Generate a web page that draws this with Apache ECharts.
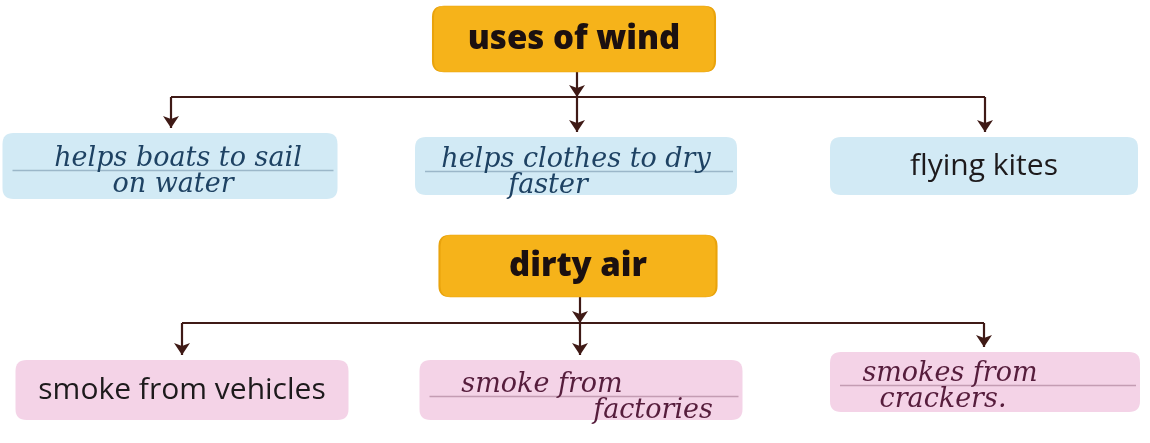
<!DOCTYPE html>
<html><head><meta charset="utf-8">
<script src="https://cdn.jsdelivr.net/npm/echarts@6/dist/echarts.min.js"></script>
<style>html,body{margin:0;padding:0;background:#fff}#c{width:1150px;height:443px}</style>
</head><body><div id="c"></div>
<script>
// ---- content ----
const headings = ['uses of wind', 'dirty air'];
const windUses = [['helps boats to sail', 'on water'], ['helps clothes to dry', 'faster'], ['flying kites']];
const dirtyAirCauses = [['smoke from vehicles'], ['smoke from', 'factories'], ['smokes from', 'crackers.']];
const handwritten = [[true, true, false], [false, true, true]];

// ---- layout (pixel space of the 1150x443 canvas) ----
const layout = [
  { head: [574, 39, 282, 66], lineY: 97, cols: [171, 577, 985],
    kids: [[170, 166, 335, 66], [576, 166, 322, 58], [984, 166, 308, 58]],
    textShift: [[8, 3], [0, -28], [0]], textDy: [6, 7, 0],
    fill: '#d2eaf5', ink: '#1e4263' },
  { head: [578, 266, 277, 62], lineY: 323, cols: [182, 580, 984],
    kids: [[182, 390, 333, 60], [581, 390, 323, 60], [985, 382, 310, 60]],
    textShift: [[0], [-39, 72], [-35, -42]], textDy: [0, 8, 5],
    fill: '#f4d3e7', ink: '#561d3c' }
];
const children = [windUses, dirtyAirCauses];
const lineColor = '#3f1a16';

function roundRectPath(w, h, r) {
  return `path://M${r},0H${w - r}Q${w},0,${w},${r}V${h - r}Q${w},${h},${w - r},${h}H${r}Q0,${h},0,${h - r}V${r}Q0,0,${r},0Z`;
}

const nodes = [], links = [];
const ruleNodes = [], ruleLinks = [];
function anchor(name, x, y, list) { (list || nodes).push({ name, value: [x, y], symbolSize: 0, label: { show: false } }); }

layout.forEach((g, gi) => {
  const [hx, hy, hw, hh] = g.head;
  nodes.push({
    name: 'h' + gi, value: [hx, hy], symbol: roundRectPath(hw, hh, 11), symbolSize: [hw, hh],
    itemStyle: { color: '#f6b31a', borderColor: '#e9a30c', borderWidth: 1 },
    label: { show: true, position: 'inside', formatter: headings[gi], fontFamily: 'Open Sans',
             fontWeight: 800, fontSize: 33, color: '#1b1010', offset: [0, 1] }
  });
  children[gi].forEach((lines, ci) => {
    const [kx, ky, kw, kh] = g.kids[ci];
    const hand = handwritten[gi][ci];
    const shifts = g.textShift[ci];
    const rich = {};
    const parts = lines.map((ln, li) => {
      const s = shifts[li] || 0;
      rich['l' + li] = { padding: s >= 0 ? [0, 0, 0, 2 * s] : [0, -2 * s, 0, 0] };
      return `{l${li}|${ln}}`;
    });
    nodes.push({
      name: 'k' + gi + ci, value: [kx, ky], symbol: roundRectPath(kw, kh, 11), symbolSize: [kw, kh],
      itemStyle: { color: g.fill },
      label: hand
        ? { show: true, position: 'inside', formatter: parts.join('\n'), rich,
            fontFamily: 'DejaVu Serif', fontStyle: 'italic', fontSize: 27, lineHeight: 26,
            color: g.ink, offset: [0, g.textDy[ci]] }
        : { show: true, position: 'inside', formatter: lines.join('\n'), fontFamily: 'Open Sans',
            fontSize: 30, color: '#1d1a1c', offset: [0, g.textDy[ci]] }
    });
    anchor('t' + gi + ci, g.cols[ci], ky - kh / 2 - 5);
    anchor('c' + gi + ci, g.cols[ci], g.lineY);
    if (hand) {
      // faint ruled line the words were written on
      const by = ky + g.textDy[ci] - 2;
      anchor('rl' + gi + ci, kx - kw / 2 + 10, by, ruleNodes);
      anchor('rr' + gi + ci, kx + kw / 2 - 4, by, ruleNodes);
      ruleLinks.push({ source: 'rl' + gi + ci, target: 'rr' + gi + ci,
                       lineStyle: { color: g.ink, width: 1.3, opacity: 0.3 } });
    }
  });
  anchor('b' + gi, g.cols[1], hy + hh / 2);
  const arrow = { symbol: ['none', 'arrow'], symbolSize: [0, 12] };
  links.push(Object.assign({ source: 'b' + gi, target: 'c' + gi + '1' }, arrow));
  links.push({ source: 'c' + gi + '1', target: 'c' + gi + '0', symbol: ['none', 'none'] });
  links.push({ source: 'c' + gi + '1', target: 'c' + gi + '2', symbol: ['none', 'none'] });
  [0, 1, 2].forEach(ci => links.push(Object.assign({ source: 'c' + gi + ci, target: 't' + gi + ci }, arrow)));
});

const chart = echarts.init(document.getElementById('c'));
chart.setOption({
  animation: false,
  backgroundColor: '#ffffff',
  grid: { left: 0, right: 0, top: 0, bottom: 0 },
  xAxis: { type: 'value', min: 0, max: 1150, show: false },
  yAxis: { type: 'value', min: 0, max: 443, inverse: true, show: false },
  series: [{
    type: 'graph', coordinateSystem: 'cartesian2d', layout: 'none', z: 2,
    data: nodes, links: links,
    lineStyle: { color: lineColor, width: 2.2, opacity: 1, curveness: 0 },
    edgeSymbolSize: [0, 12],
    emphasis: { disabled: true }
  }, {
    type: 'graph', coordinateSystem: 'cartesian2d', layout: 'none', z: 5, silent: true,
    data: ruleNodes, links: ruleLinks, edgeSymbol: ['none', 'none'],
    lineStyle: { curveness: 0 },
    emphasis: { disabled: true }
  }]
});
</script></body></html>
